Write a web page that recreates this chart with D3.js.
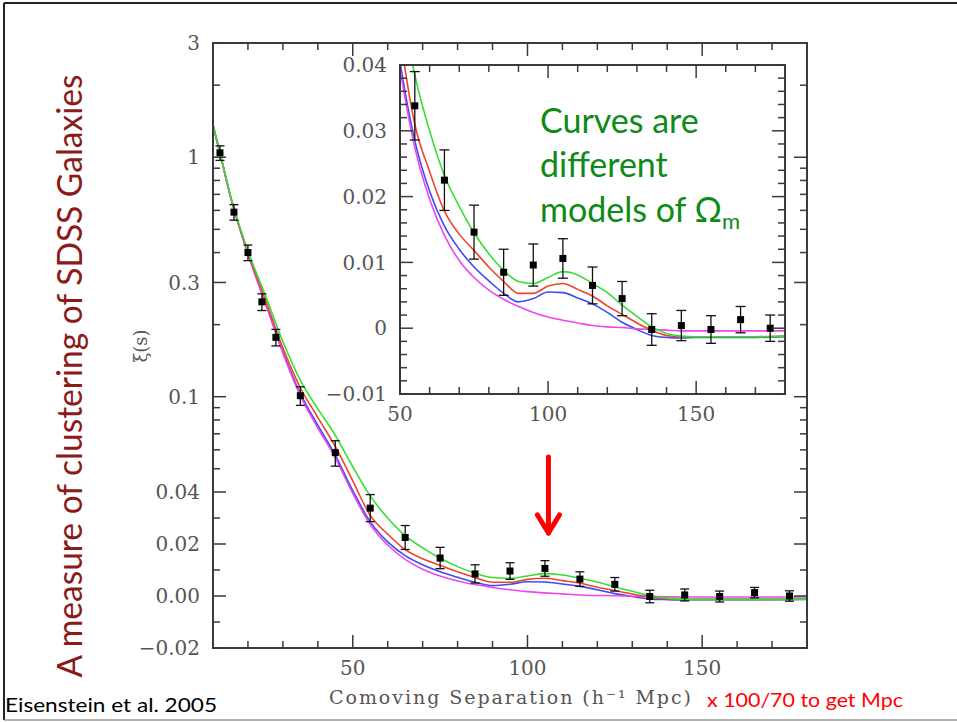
<!DOCTYPE html>
<html>
<head>
<meta charset="utf-8">
<script src="https://cdn.jsdelivr.net/npm/d3@7"></script>
<style>
  body { margin: 0; background: #fff; }
</style>
</head>
<body>
<script>
const width = 957;
const height = 722;

// model curves, xi(s) read along separation s (h^-1 Mpc)
const modelS = [10, 12, 15, 20, 25, 30, 35, 40, 45, 50, 55, 60, 65, 70, 75, 80, 85, 90, 95, 100, 105, 110, 115, 120, 125, 130, 135, 140, 145, 150, 160, 170, 180];
const greenXi = [1.36, 1.045, 0.69, 0.406, 0.265, 0.170, 0.117, 0.089, 0.069, 0.051, 0.0385, 0.030, 0.0232, 0.0185, 0.0145, 0.0113, 0.0088, 0.0071, 0.0068, 0.0077, 0.0086, 0.0081, 0.0068, 0.0054, 0.0035, 0.0018, 0.0002, -0.0008, -0.0012, -0.0013, -0.0013, -0.0013, -0.0012];
const redXi = [1.36, 1.042, 0.687, 0.400, 0.254, 0.160, 0.109, 0.082, 0.062, 0.0445, 0.031, 0.0238, 0.0178, 0.0143, 0.0118, 0.0093, 0.0071, 0.0053, 0.0053, 0.0064, 0.0068, 0.0059, 0.0049, 0.0034, 0.0021, 0.0008, -0.0003, -0.0011, -0.0013, -0.0013, -0.0013, -0.0013, -0.0012];
const blueXi = [1.36, 1.04, 0.686, 0.396, 0.247, 0.154, 0.103, 0.076, 0.057, 0.0405, 0.0285, 0.0208, 0.0155, 0.0120, 0.0093, 0.0072, 0.0053, 0.0040, 0.0045, 0.0055, 0.0054, 0.0046, 0.0037, 0.0024, 0.0009, -0.0002, -0.0011, -0.0014, -0.0015, -0.0014, -0.0014, -0.0014, -0.0013];
const magentaXi = [1.36, 1.04, 0.685, 0.394, 0.245, 0.152, 0.101, 0.074, 0.0555, 0.0395, 0.0275, 0.0196, 0.0141, 0.0103, 0.0077, 0.0058, 0.0044, 0.0033, 0.0024, 0.0017, 0.0012, 0.0008, 0.0004, 0.0002, 0.0001, -0.0001, -0.0002, -0.0003, -0.0004, -0.0004, -0.0004, -0.0004, -0.0004];

// measured points with 1-sigma errors
const pointS = [12, 16, 20, 24, 28, 35, 45, 55, 65, 75, 85, 95, 105, 115, 125, 135, 145, 155, 165, 175];
const pointXi = [1.043, 0.590, 0.400, 0.249, 0.177, 0.101, 0.0584, 0.0338, 0.0225, 0.0146, 0.0085, 0.0096, 0.0106, 0.0065, 0.0045, -0.0002, 0.0004, -0.0002, 0.0013, 0.0000];
const pointErr = [0.073, 0.044, 0.030, 0.020, 0.014, 0.009, 0.0071, 0.0052, 0.0046, 0.0041, 0.0035, 0.0032, 0.0030, 0.0028, 0.0026, 0.0024, 0.0023, 0.0021, 0.0020, 0.0020];

// ticks
const mainYTicks = [3, 1, 0.3, 0.1, 0.04, 0.02, 0, -0.02];
const mainYLabels = ['3', '1', '0.3', '0.1', '0.04', '0.02', '0.00', '\u22120.02'];
const mainYMinor = [2, 0.9, 0.8, 0.7, 0.6, 0.5, 0.4, 0.2, 0.09, 0.08, 0.07, 0.06, 0.05, 0.03, 0.01, -0.01];
const mainXTicks = [50, 100, 150];
const insetYTicks = [0.04, 0.03, 0.02, 0.01, 0, -0.01];
const insetYLabels = ['0.04', '0.03', '0.02', '0.01', '0', '\u22120.01'];
const insetXTicks = [50, 100, 150];

const models = [
  { name: 'blue', color: '#3b4cf0', values: blueXi },
  { name: 'magenta', color: '#ee45ee', values: magentaXi },
  { name: 'red', color: '#f0432c', values: redXi },
  { name: 'green', color: '#33e033', values: greenXi }
];
const points = pointS.map((s, i) => ({ s: s, xi: pointXi[i], err: pointErr[i] }));

const axisColor = '#3a3a3a';
const labelColor = '#555';
const tickFont = 'DejaVu Serif';

const svg = d3.select('body').append('svg')
  .attr('width', width)
  .attr('height', height)
  .style('display', 'block');

svg.append('rect').attr('width', width).attr('height', height).attr('fill', '#fff');

// slide frame
svg.append('line').attr('x1', 4).attr('y1', 3).attr('x2', 4).attr('y2', 720).attr('stroke', '#222').attr('stroke-width', 2);
svg.append('line').attr('x1', 4).attr('y1', 3).attr('x2', 957).attr('y2', 3).attr('stroke', '#222').attr('stroke-width', 2);
svg.append('line').attr('x1', 4).attr('y1', 720).attr('x2', 957).attr('y2', 720).attr('stroke', '#999').attr('stroke-width', 1.5);

// ---------- main panel ----------
const main = { left: 213, top: 43, right: 807, bottom: 648, split: 492 };
const xMain = d3.scaleLinear().domain([10, 180]).range([main.left, main.right]);
const yLin = d3.scaleLinear().domain([-0.02, 0.04]).range([main.bottom, main.split]);
const yLog = d3.scaleLog().domain([0.04, 3]).range([main.split, main.top]);
const yMain = v => v >= 0.04 ? yLog(v) : yLin(v);

svg.append('clipPath').attr('id', 'clipMain')
  .append('rect')
  .attr('x', main.left).attr('y', main.top)
  .attr('width', main.right - main.left).attr('height', main.bottom - main.top);

function drawPanel(g, xs, ys, box, opt) {
  const lineGen = d3.line()
    .x(d => xs(d[0]))
    .y(d => ys(d[1]))
    .curve(d3.curveMonotoneX);

  const curves = g.append('g').attr('clip-path', `url(#${opt.clip})`);
  curves.selectAll('path')
    .data(models)
    .join('path')
      .attr('d', m => lineGen(modelS.map((s, i) => [s, m.values[i]])))
      .attr('fill', 'none')
      .attr('stroke', m => m.color)
      .attr('stroke-width', 1.6);

  const pts = g.append('g').selectAll('g')
    .data(points.filter(p => p.s >= xs.domain()[0]))
    .join('g');
  pts.append('line')
    .attr('x1', d => xs(d.s)).attr('x2', d => xs(d.s))
    .attr('y1', d => ys(d.xi + d.err)).attr('y2', d => ys(d.xi - d.err))
    .attr('stroke', '#111').attr('stroke-width', 1.3);
  [1, -1].forEach(sign => {
    pts.append('line')
      .attr('x1', d => xs(d.s) - opt.cap).attr('x2', d => xs(d.s) + opt.cap)
      .attr('y1', d => ys(d.xi + sign * d.err)).attr('y2', d => ys(d.xi + sign * d.err))
      .attr('stroke', '#111').attr('stroke-width', 1.3);
  });
  pts.append('rect')
    .attr('x', d => xs(d.s) - opt.sq / 2)
    .attr('y', d => ys(d.xi) - opt.sq / 2)
    .attr('width', opt.sq).attr('height', opt.sq)
    .attr('fill', '#000');

  // frame
  g.append('rect')
    .attr('x', box.left).attr('y', box.top)
    .attr('width', box.right - box.left).attr('height', box.bottom - box.top)
    .attr('fill', 'none').attr('stroke', axisColor).attr('stroke-width', opt.frame);

  const ticks = g.append('g').attr('stroke', axisColor).attr('stroke-width', 1.5);
  const tickX = (list, len) => list.forEach(v => {
    ticks.append('line').attr('x1', xs(v)).attr('x2', xs(v)).attr('y1', box.bottom).attr('y2', box.bottom - len);
    ticks.append('line').attr('x1', xs(v)).attr('x2', xs(v)).attr('y1', box.top).attr('y2', box.top + len);
  });
  const tickY = (list, len) => list.forEach(v => {
    ticks.append('line').attr('y1', ys(v)).attr('y2', ys(v)).attr('x1', box.left).attr('x2', box.left + len);
    ticks.append('line').attr('y1', ys(v)).attr('y2', ys(v)).attr('x1', box.right).attr('x2', box.right - len);
  });
  tickX(opt.xMajor, opt.major);
  tickX(opt.xMinor, opt.minor);
  tickY(opt.yMajor, opt.major);
  tickY(opt.yMinor, opt.minor);

  g.append('g').selectAll('text')
    .data(opt.yMajor)
    .join('text')
      .attr('x', box.left - opt.yLabelGap)
      .attr('y', v => ys(v))
      .attr('dy', '0.36em')
      .attr('text-anchor', 'end')
      .attr('font-family', tickFont)
      .attr('font-size', 20)
      .attr('fill', labelColor)
      .text((v, i) => opt.yLabels[i]);

  g.append('g').selectAll('text')
    .data(opt.xMajor)
    .join('text')
      .attr('x', v => xs(v))
      .attr('y', box.bottom + opt.xLabelGap)
      .attr('text-anchor', 'middle')
      .attr('font-family', tickFont)
      .attr('font-size', 20)
      .attr('fill', labelColor)
      .text(v => v);
}

const mainG = svg.append('g');
drawPanel(mainG, xMain, yMain, main, {
  clip: 'clipMain', cap: 4.5, sq: 7, frame: 2, major: 13, minor: 7,
  xMajor: mainXTicks, xMinor: d3.range(20, 180, 10).filter(v => v % 50 !== 0),
  yMajor: mainYTicks, yMinor: mainYMinor, yLabels: mainYLabels,
  yLabelGap: 13, xLabelGap: 27
});

// ---------- inset ----------
const inset = { left: 400, top: 65, right: 785, bottom: 394 };
const xIn = d3.scaleLinear().domain([50, 180]).range([inset.left, inset.right]);
const yIn = d3.scaleLinear().domain([-0.01, 0.04]).range([inset.bottom, inset.top]);

svg.append('clipPath').attr('id', 'clipInset')
  .append('rect')
  .attr('x', inset.left).attr('y', inset.top)
  .attr('width', inset.right - inset.left).attr('height', inset.bottom - inset.top);

svg.append('rect')
  .attr('x', inset.left).attr('y', inset.top)
  .attr('width', inset.right - inset.left).attr('height', inset.bottom - inset.top)
  .attr('fill', '#fff');

const insetG = svg.append('g');
drawPanel(insetG, xIn, yIn, inset, {
  clip: 'clipInset', cap: 5, sq: 7, frame: 2, major: 13, minor: 7,
  xMajor: insetXTicks, xMinor: d3.range(60, 180, 10).filter(v => v % 50 !== 0),
  yMajor: insetYTicks,
  yMinor: d3.range(-8, 40, 2).filter(v => v % 10 !== 0).map(v => v / 1000),
  yLabels: insetYLabels,
  yLabelGap: 13, xLabelGap: 27
});

// ---------- texts ----------
svg.append('text')
  .attr('x', 510).attr('y', 704)
  .attr('text-anchor', 'middle')
  .attr('font-family', tickFont)
  .attr('font-size', 19)
  .attr('fill', labelColor)
  .attr('textLength', 362)
  .attr('lengthAdjust', 'spacing')
  .text('Comoving Separation (h\u207B\u00B9 Mpc)');

svg.append('text')
  .attr('transform', 'translate(147,346) rotate(-90)')
  .attr('text-anchor', 'middle')
  .attr('font-family', tickFont)
  .attr('font-size', 18)
  .attr('fill', labelColor)
  .text('\u03BE(s)');

svg.append('text')
  .attr('transform', 'translate(82,376) rotate(-90)')
  .attr('text-anchor', 'middle')
  .attr('font-family', 'Lato')
  .attr('font-size', 34)
  .attr('fill', '#8b1a1a')
  .attr('textLength', 603)
  .attr('lengthAdjust', 'spacingAndGlyphs')
  .text('A measure of clustering of SDSS Galaxies');

svg.append('text')
  .attr('x', 5).attr('y', 712)
  .attr('font-family', 'Lato')
  .attr('font-size', 19)
  .attr('fill', '#000')
  .attr('textLength', 212)
  .attr('lengthAdjust', 'spacingAndGlyphs')
  .text('Eisenstein et al. 2005');

svg.append('text')
  .attr('x', 707).attr('y', 707)
  .attr('font-family', 'Lato')
  .attr('font-size', 20)
  .attr('fill', '#ff0000')
  .attr('textLength', 196)
  .attr('lengthAdjust', 'spacingAndGlyphs')
  .text('x 100/70 to get Mpc');

const note = svg.append('g')
  .attr('font-family', 'Lato')
  .attr('font-size', 34)
  .attr('fill', '#0e8a16');
note.append('text').attr('x', 540).attr('y', 133).text('Curves are');
note.append('text').attr('x', 540).attr('y', 177).text('different');
const last = note.append('text').attr('x', 540).attr('y', 222);
last.append('tspan').text('models of \u03A9');
last.append('tspan').attr('font-size', 22).attr('dy', 7).text('m');

// arrow pointing at the acoustic bump
const arrowS = 106;
const arrowX = xMain(arrowS);
const arrow = svg.append('g')
  .attr('stroke', '#ff0000')
  .attr('stroke-width', 5)
  .attr('stroke-linecap', 'round')
  .attr('fill', 'none');
arrow.append('line').attr('x1', arrowX).attr('x2', arrowX).attr('y1', 457).attr('y2', 533);
arrow.append('polyline')
  .attr('points', `${arrowX - 11},${515} ${arrowX},${533} ${arrowX + 11},${515}`)
  .attr('stroke-linejoin', 'round');
</script>
</body>
</html>
